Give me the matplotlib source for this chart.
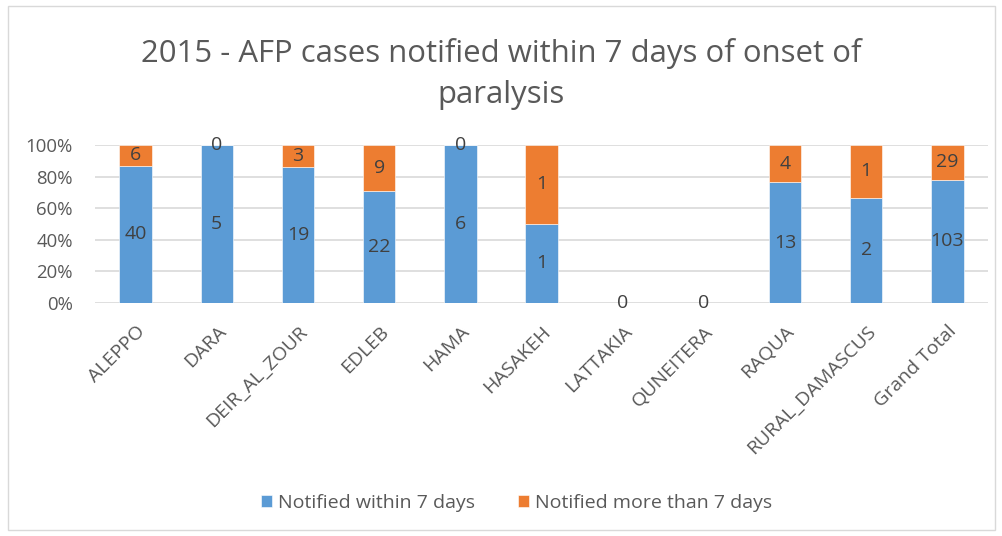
import numpy as np
import matplotlib
matplotlib.use("Agg")
import matplotlib.pyplot as plt
from matplotlib.patches import Rectangle

# data
regions = ['ALEPPO', 'DARA', 'DEIR_AL_ZOUR', 'EDLEB', 'HAMA', 'HASAKEH',
           'LATTAKIA', 'QUNEITERA', 'RAQUA', 'RURAL_DAMASCUS', 'Grand Total']
within7 = [40, 5, 19, 22, 6, 1, 0, 0, 13, 2, 103]
more7 = [6, 0, 3, 9, 0, 1, 0, 0, 4, 1, 29]
yticks = [0, 0.2, 0.4, 0.6, 0.8, 1.0]

blue = "#5B9BD5"
orange = "#ED7D31"
textc = "#595959"

plt.rcParams['font.family'] = ['Open Sans', 'DejaVu Sans']

w = np.array(within7, dtype=float)
m = np.array(more7, dtype=float)
tot = w + m
safe = np.where(tot == 0, 1, tot)
wp = w / safe
mp = m / safe

fig = plt.figure(figsize=(10.03, 5.36), dpi=100)
fig.patches.append(Rectangle((0.008, 0.012), 0.984, 0.976, transform=fig.transFigure,
                             fill=False, edgecolor="#D9D9D9", lw=1))
ax = fig.add_axes([0.0947, 0.4347, 0.8903, 0.2948])

x = np.arange(len(regions))
bw = 0.4
ax.bar(x, wp, bw, color=blue, edgecolor="white", lw=0.4, label="Notified within 7 days", zorder=2)
ax.bar(x, mp, bw, bottom=wp, color=orange, edgecolor="white", lw=0.4,
       label="Notified more than 7 days", zorder=2)

lab = dict(ha="center", va="center", fontsize=14, color="#404040", zorder=3)
for i in range(len(regions)):
    if tot[i] == 0:
        ax.text(x[i], 0, "0", **lab)
        continue
    ax.text(x[i], wp[i] / 2, str(within7[i]), **lab)
    ax.text(x[i], wp[i] + mp[i] / 2, str(more7[i]), **lab)

ax.set_xlim(-0.5, len(regions) - 0.5)
ax.set_ylim(0, 1)
ax.set_yticks(yticks)
ax.set_yticklabels([f"{int(round(t * 100))}%" for t in yticks], fontsize=13.4, color=textc)
ax.set_xticks(x)
ax.set_xticklabels(regions, rotation=45, ha="right", rotation_mode="anchor",
                   fontsize=14, color=textc)
ax.tick_params(length=0)
ax.tick_params(axis="y", pad=16)
ax.tick_params(axis="x", pad=14)
ax.grid(axis="y", color="#D9D9D9", lw=1.2, zorder=0)
for s in ax.spines.values():
    s.set_visible(False)

fig.text(0.5, 0.862, "2015 - AFP cases notified within 7 days of onset of\nparalysis",
         ha="center", va="center", fontsize=22.4, color=textc, linespacing=1.5)

fig.legend(loc="center", bbox_to_anchor=(0.515, 0.062), ncol=2, frameon=False,
           fontsize=14, labelcolor=textc, handlelength=0.57, handleheight=0.57,
           columnspacing=2.2, handletextpad=0.3)

fig.savefig("out.png", dpi=100)
